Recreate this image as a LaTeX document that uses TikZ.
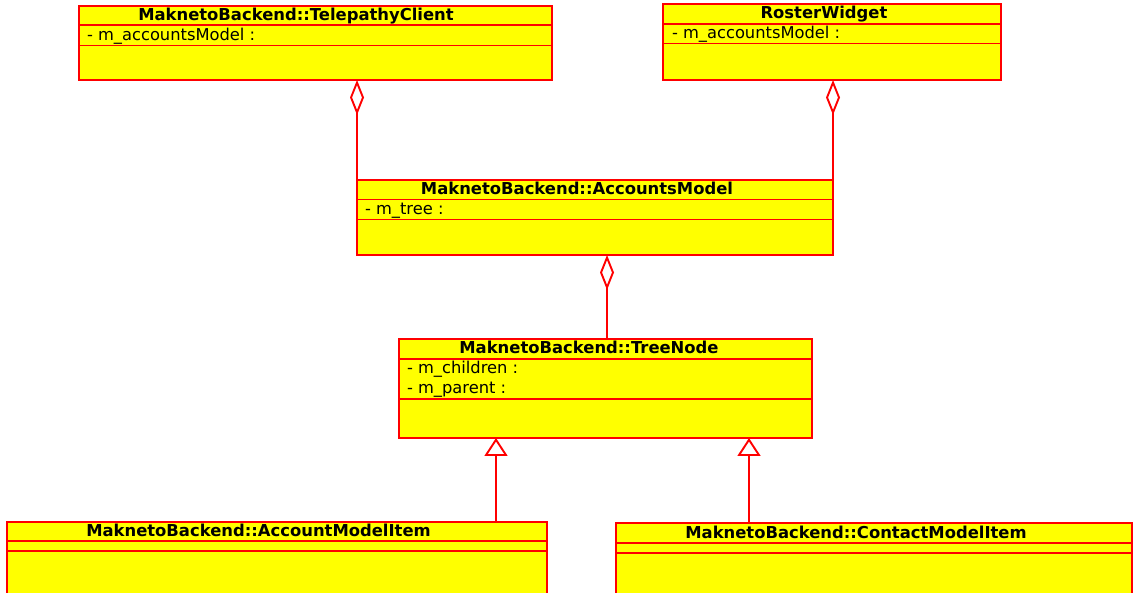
\documentclass[tikz,border=0pt]{standalone}
\usepackage{fontspec}
\setmainfont{DejaVu Sans}
\usetikzlibrary{arrows.meta}

\definecolor{umlred}{RGB}{255,0,0}
\definecolor{umlyellow}{RGB}{255,255,0}

\begin{document}
\begin{tikzpicture}[x=1pt, y=-1pt, line width=1.9pt,
	every node/.style={inner sep=0pt, outer sep=0pt},
	umlclass/.style={draw=umlred, fill=umlyellow, rectangle, anchor=north west},
	umltitle/.style={anchor=base, font=\fontsize{16.4}{19}\selectfont\bfseries},
	umlattr/.style={anchor=base west, font=\fontsize{16.3}{19}\selectfont},
	umlline/.style={draw=umlred, line width=1.9pt},
	aggr/.style={draw=umlred, {Diamond[open, length=35pt, width=14pt]}-},
	inherit/.style={draw=umlred, -{Triangle[open, length=18pt, width=23pt]}}]
	\useasboundingbox (0,0) rectangle (1133,593);
	\clip (0,0) rectangle (1133,593);
	% class boxes
	\foreach \n/\xa/\ya/\xb/\yb in {tc/79/6/552/80,
			rw/663/4/1001/80,
			am/357/180/833/255,
			tn/399/339/812/438,
			ami/7/522/547/620,
			cmi/616/523/1132/620}
		\node[umlclass, minimum width={\xb-\xa}, minimum height={\yb-\ya}] (\n) at (\xa,\ya) {};
	% names
	\node[umltitle] (tc-name) at (296,20.5) {MaknetoBackend::TelepathyClient};
	\node[umltitle] (rw-name) at (824,19) {RosterWidget};
	\node[umltitle] (am-name) at (577,195) {MaknetoBackend::AccountsModel};
	\node[umltitle] (tn-name) at (589,354) {MaknetoBackend::TreeNode};
	\node[umltitle] (ami-name) at (258.5,536.5) {MaknetoBackend::AccountModelItem};
	\node[umltitle] (cmi-name) at (856,538) {MaknetoBackend::ContactModelItem};
	% attributes
	\node[umlattr] (tc-attr) at (87,40.5) {- m\_accountsModel :};
	\node[umlattr] (rw-attr) at (672,39) {- m\_accountsModel :};
	\node[umlattr] (am-attr) at (365,215) {- m\_tree :};
	\node[umlattr] (tn-attr1) at (407,374) {- m\_children :};
	\node[umlattr] (tn-attr2) at (407,393.3) {- m\_parent :};
	% compartment lines
	\foreach \n/\la/\lb in {tc/25/45.5, rw/24/43.5, am/199.5/219.5,
			tn/359/399, ami/541/551, cmi/543/553} {
		\draw[umlline] (\n.west |- 0,\la) -- (\n.east |- 0,\la);
		\draw[umlline] (\n.west |- 0,\lb) -- (\n.east |- 0,\lb);
	}
	% aggregations
	\draw[aggr] (tc.south -| am.north west) -- (am.north west);
	\draw[aggr] (rw.south -| am.north east) -- (am.north east);
	\draw[aggr] (am.south -| 607,0) -- (tn.north -| 607,0);
	% generalisations
	\draw[inherit] (ami.north -| 496,0) -- (tn.south -| 496,0);
	\draw[inherit] (cmi.north -| 749,0) -- (tn.south -| 749,0);
\end{tikzpicture}
\end{document}
